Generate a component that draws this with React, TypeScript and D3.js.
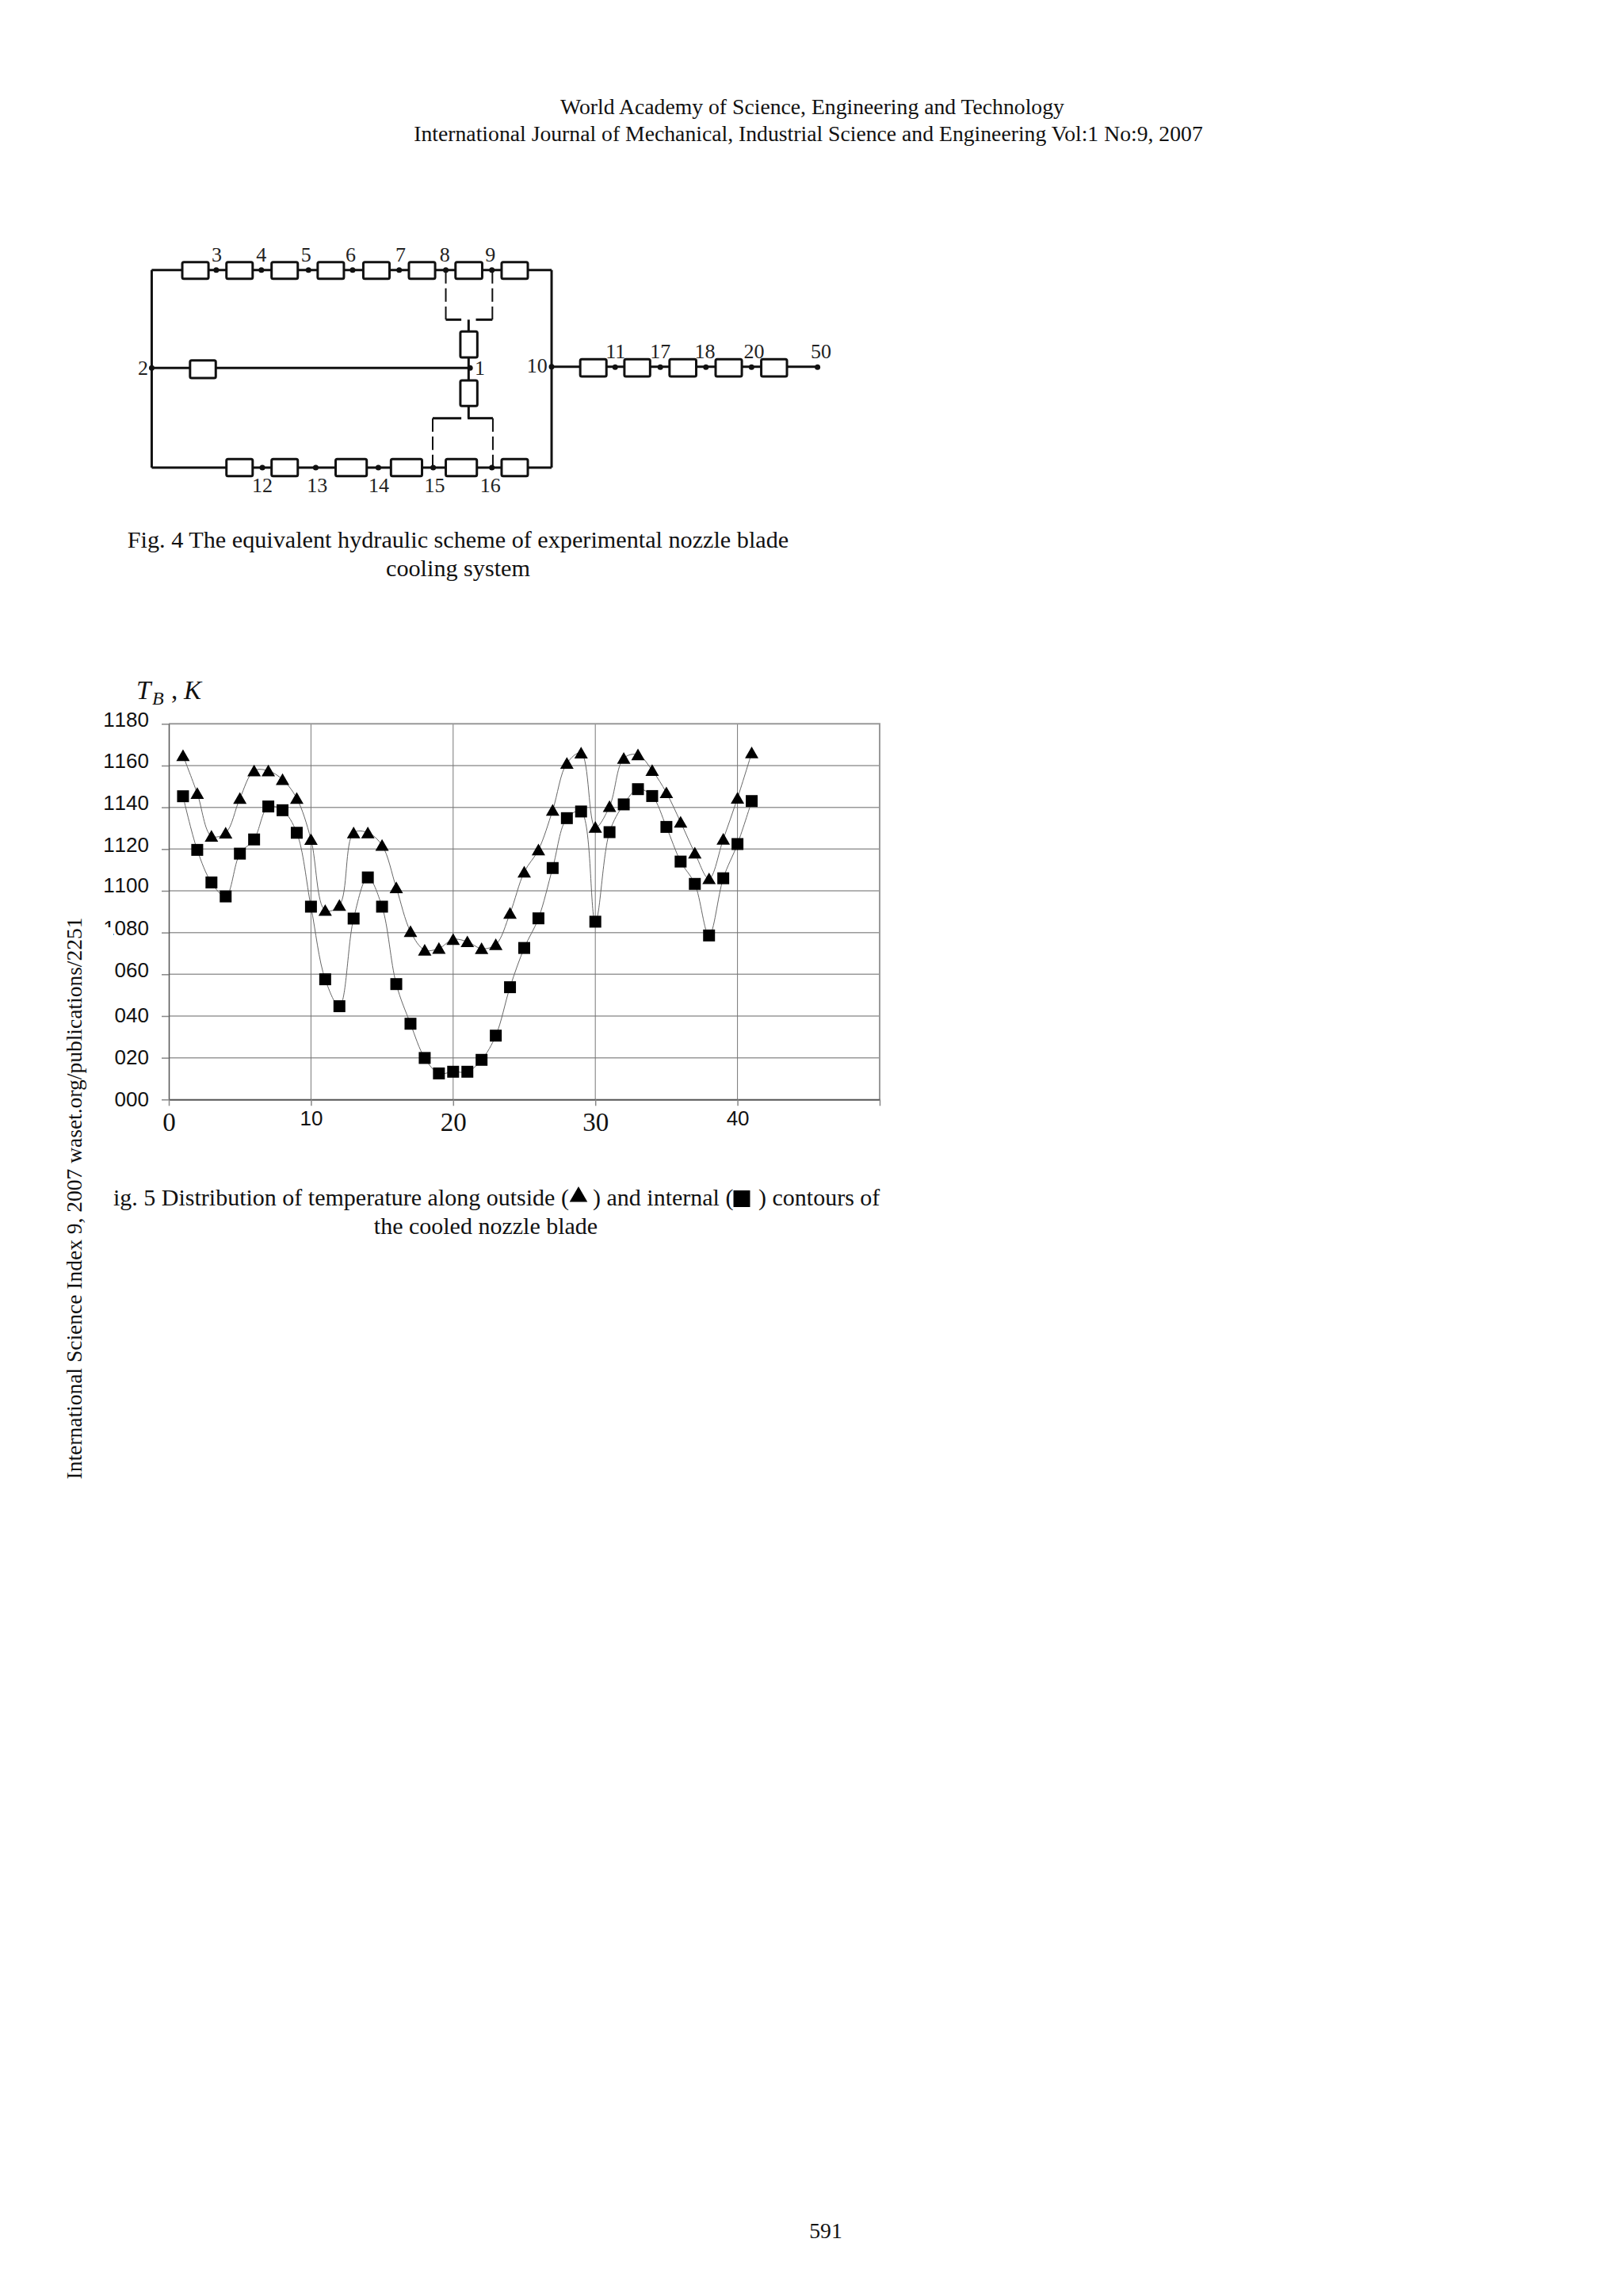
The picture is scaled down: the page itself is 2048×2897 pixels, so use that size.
import React, { useEffect, useRef } from 'react';
import * as d3 from 'd3';

// Fig. 5 values
const positions = d3.range(1, 42);
const outsideTemps = [
  1164.8, 1146.7, 1126.2, 1127.7, 1144.3, 1157.5, 1157.5, 1153.3, 1144.3, 1124.6,
  1090.6, 1093, 1127.8, 1127.8, 1121.8, 1101.5, 1080.5, 1071.6, 1072.4, 1076.7,
  1075.6, 1072.3, 1074.2, 1089.2, 1109, 1119.6, 1138.6, 1161.1, 1166, 1130.4,
  1140.4, 1163.5, 1165.2, 1157.7, 1147, 1132.9, 1118.1, 1105.8, 1124.7, 1144.4, 1166.1,
];
const internalTemps = [
  1145.3, 1119.6, 1104, 1097.3, 1117.8, 1124.6, 1140.4, 1138.6, 1127.8, 1092.4,
  1057.6, 1044.7, 1086.7, 1106.4, 1092.4, 1055.3, 1036.3, 1019.9, 1012.5, 1013.3,
  1013.3, 1019, 1030.6, 1053.8, 1072.6, 1086.8, 1110.9, 1134.8, 1138, 1085.2,
  1128.1, 1141.4, 1148.7, 1145.4, 1130.6, 1114, 1103.3, 1078.6, 1106, 1122.4, 1143,
];
const yTicks = [1180, 1160, 1140, 1120, 1100, 1080, 1060, 1040, 1020, 1000];
const yTickLabels = ['1180', '1160', '1140', '1120', '1100', '1080', '060', '040', '020', '000'];
const yLabelNudge = [-6, -6, -6, -6, -7, -6, -6, -1, -1, -1];
const xTicks = [0, 10, 20, 30, 40, 50];
const xTickLabels = ['0', '10', '20', '30', '40', ''];
const xTickSans = [false, true, false, false, true, false];

// Fig. 4 scheme, in a grid of its own mapped onto the page below
const topBoxes = [[147, 201], [238, 292], [331, 385], [426, 480], [520, 574], [614, 668], [710, 765], [805, 859]];
const bottomBoxes = [[238, 292], [331, 385], [463, 527], [577, 641], [690, 754], [805, 859]];
const exitBoxes = [[967, 1021], [1058, 1111], [1151, 1206], [1246, 1300], [1340, 1393]];
const topNodes = [217, 310, 407, 498, 594, 690, 785];
const bottomNodes = [312, 422, 551, 664, 785];
const exitNodes = [1039, 1132, 1226, 1320, 1456];
const topLabels: [string, number][] = [['3', 218], ['4', 310], ['5', 402], ['6', 494], ['7', 597], ['8', 688], ['9', 782]];
const bottomLabels: [string, number][] = [['12', 312], ['13', 425], ['14', 552], ['15', 667], ['16', 782]];
const exitLabels: [string, number][] = [['11', 1040], ['17', 1132], ['18', 1224], ['20', 1325], ['50', 1463]];

const serif = '"Liberation Serif", serif';
const sans = '"Liberation Sans", sans-serif';

function drawScheme(root: d3.Selection<SVGGElement, unknown, null, undefined>) {
  const sx = d3.scaleLinear().domain([0, 960 * 1.633]).range([140, 1100]);
  const sy = d3.scaleLinear().domain([0, 1440]).range([280, 760]);

  const wire = (x1: number, y1: number, x2: number, y2: number, dash?: string) =>
    root.append('line')
      .attr('x1', sx(x1)).attr('y1', sy(y1)).attr('x2', sx(x2)).attr('y2', sy(y2))
      .attr('stroke', '#111').attr('stroke-width', dash ? 2 : 3)
      .attr('stroke-dasharray', dash ?? null);
  const box = (x1: number, x2: number, y1: number, y2: number) =>
    root.append('rect')
      .attr('x', sx(x1)).attr('y', sy(y1)).attr('width', sx(x2) - sx(x1)).attr('height', sy(y2) - sy(y1))
      .attr('rx', 2).attr('fill', '#fff').attr('stroke', '#111').attr('stroke-width', 3);
  const node = (x: number, y: number) =>
    root.append('circle').attr('cx', sx(x)).attr('cy', sy(y)).attr('r', 3.5).attr('fill', '#111');
  const label = (t: string, x: number, y: number) =>
    root.append('text').attr('x', sx(x)).attr('y', sy(y)).attr('text-anchor', 'middle')
      .attr('font-family', serif).attr('font-size', 26).attr('fill', '#222').text(t);

  wire(84, 182, 908, 182);
  wire(84, 930, 908, 930);
  wire(84, 182, 84, 930);
  wire(908, 182, 908, 930);
  wire(84, 553, 740, 553);
  wire(908, 548, 1456, 548);
  wire(737, 370, 737, 415);
  wire(737, 513, 737, 600);
  wire(737, 697, 737, 743);

  // dashed brackets
  wire(690, 182, 690, 370, '17 6');
  wire(786, 182, 786, 370, '17 6');
  wire(690, 370, 722, 370);
  wire(752, 370, 786, 370);
  wire(663, 743, 722, 743);
  wire(735, 743, 787, 743);
  wire(663, 743, 663, 930, '17 6');
  wire(787, 743, 787, 930, '17 6');

  topBoxes.forEach(([a, b]) => box(a, b, 152, 215));
  bottomBoxes.forEach(([a, b]) => box(a, b, 898, 962));
  exitBoxes.forEach(([a, b]) => box(a, b, 520, 585));
  box(163, 216, 524, 591);
  box(720, 755, 415, 513);
  box(720, 755, 600, 697);

  topNodes.forEach((x) => node(x, 182));
  bottomNodes.forEach((x) => node(x, 930));
  exitNodes.forEach((x) => node(x, 550));
  node(84, 553);
  node(740, 553);
  node(908, 548);

  topLabels.forEach(([t, x]) => label(t, x, 150));
  bottomLabels.forEach(([t, x]) => label(t, x, 1022));
  exitLabels.forEach(([t, x]) => label(t, x, 515));
  label('2', 66, 578);
  label('1', 760, 578);
  label('10', 878, 570);
}

function drawChart(root: d3.Selection<SVGGElement, unknown, null, undefined>) {
  const x = d3.scaleLinear().domain([0, 50]).range([213, 1110]);
  const y = d3.scaleLinear().domain([1000, 1180]).range([1387.3, 913.3]);

  // grid
  root.append('g').selectAll('line').data(yTicks.slice(1, -1)).join('line')
    .attr('x1', x(0)).attr('x2', x(50)).attr('y1', (d) => y(d)).attr('y2', (d) => y(d))
    .attr('stroke', '#999').attr('stroke-width', 1.5);
  root.append('g').selectAll('line').data([10, 20, 30, 40]).join('line')
    .attr('x1', (d) => x(d)).attr('x2', (d) => x(d)).attr('y1', y(1180)).attr('y2', y(1000))
    .attr('stroke', '#777').attr('stroke-width', 1);
  root.append('path')
    .attr('d', `M${x(0)},${y(1180)}H${x(50)}V${y(1000)}`)
    .attr('fill', 'none').attr('stroke', '#999').attr('stroke-width', 2);

  const yAxis = root.append('g').attr('transform', `translate(${x(0)},0)`)
    .call(d3.axisLeft(y).tickValues(yTicks).tickSize(9).tickSizeOuter(0).tickFormat((_, i) => yTickLabels[i]));
  yAxis.select('.domain').attr('stroke', '#555').attr('stroke-width', 1.5);
  yAxis.selectAll('.tick line').attr('stroke', '#888').attr('stroke-width', 1.5);
  yAxis.selectAll<SVGTextElement, number>('.tick text')
    .attr('x', -25).attr('dy', (_, i) => yLabelNudge[i] + 9)
    .attr('font-family', sans).attr('font-size', 26).attr('fill', '#111')
    .style('font-kerning', 'none');

  const xAxis = root.append('g').attr('transform', `translate(0,${y(1000)})`)
    .call(d3.axisBottom(x).tickValues(xTicks).tickSize(8).tickSizeOuter(0).tickFormat((_, i) => xTickLabels[i]));
  xAxis.select('.domain').attr('stroke', '#555').attr('stroke-width', 2);
  xAxis.selectAll('.tick line').attr('stroke', '#888').attr('stroke-width', 1.5);
  xAxis.selectAll<SVGTextElement, number>('.tick text')
    .attr('dy', 0)
    .attr('y', (_, i) => (xTickSans[i] ? 33 : 40))
    .attr('font-family', (_, i) => (xTickSans[i] ? sans : serif))
    .attr('font-size', (_, i) => (xTickSans[i] ? 26 : 33))
    .attr('fill', '#111')
    .style('font-kerning', 'none');

  // the smoothed series
  const line = d3.line<number>()
    .x((_, i) => x(positions[i]))
    .y((d) => y(d))
    .curve(d3.curveCatmullRom.alpha(0.5));
  [outsideTemps, internalTemps].forEach((series) => {
    root.append('path').attr('d', line(series)).attr('fill', 'none').attr('stroke', '#666').attr('stroke-width', 1);
  });

  const triangle = d3.symbol(d3.symbolTriangle, 125)();
  const square = d3.symbol(d3.symbolSquare, 225)();
  root.append('g').selectAll('path').data(outsideTemps).join('path')
    .attr('d', triangle)
    .attr('transform', (d, i) => `translate(${x(positions[i])},${y(d) + 2})`)
    .attr('fill', '#000');
  root.append('g').selectAll('path').data(internalTemps).join('path')
    .attr('d', square)
    .attr('transform', (d, i) => `translate(${x(positions[i])},${y(d)})`)
    .attr('fill', '#000');

  // bottom half of the cropped "1" of 1080
  root.append('rect').attr('x', 125).attr('y', 1170).attr('width', 18).attr('height', 20).attr('fill', '#fff');

  // axis title
  const title = root.append('text').attr('font-family', serif).attr('font-style', 'italic').attr('fill', '#111');
  title.append('tspan').attr('x', 172).attr('y', 882).attr('font-size', 33).text('T');
  title.append('tspan').attr('x', 192).attr('y', 889).attr('font-size', 24).text('B');
  title.append('tspan').attr('x', 216).attr('y', 882).attr('font-size', 33).attr('font-style', 'normal').text(',');
  title.append('tspan').attr('x', 232).attr('y', 882).attr('font-size', 33).text('K');
}

function drawPage(root: d3.Selection<SVGGElement, unknown, null, undefined>) {
  const text = (t: string, px: number, py: number, size: number, anchor = 'middle') =>
    root.append('text').attr('x', px).attr('y', py).attr('text-anchor', anchor)
      .attr('font-family', serif).attr('font-size', size).attr('fill', '#111').text(t);

  text('World Academy of Science, Engineering and Technology', 1025, 144, 27.7);
  text('International Journal of Mechanical, Industrial Science and Engineering Vol:1 No:9, 2007', 1020, 178, 27.7);
  text('Fig. 4 The equivalent hydraulic scheme of experimental nozzle blade', 578, 691, 30.2);
  text('cooling system', 578, 727, 30.2);

  text('ig. 5 Distribution of temperature along outside (', 143, 1521, 30, 'start');
  text(') and internal (', 748, 1521, 30, 'start');
  text(') contours of', 957, 1521, 30, 'start');
  text('the cooled nozzle blade', 613, 1557, 30);
  root.append('path').attr('d', d3.symbol(d3.symbolTriangle, 220)())
    .attr('transform', 'translate(730,1510)').attr('fill', '#000');
  root.append('path').attr('d', d3.symbol(d3.symbolSquare, 440)())
    .attr('transform', 'translate(936,1512.5)').attr('fill', '#000');

  text('International Science Index 9, 2007 waset.org/publications/2251', 0, 0, 27.5)
    .attr('transform', 'translate(103,1512) rotate(-90)');
  text('591', 1042, 2824, 27.7);
}

const App = () => {
  const svgRef = useRef<SVGSVGElement>(null);

  useEffect(() => {
    const svg = d3.select(svgRef.current);
    svg.selectAll('*').remove();
    drawPage(svg.append('g'));
    drawScheme(svg.append('g'));
    drawChart(svg.append('g'));
  }, []);

  return (
    <svg
      ref={svgRef}
      width={2048}
      height={2897}
      style={{ position: 'absolute', top: 0, left: 0, background: '#fff' }}
    />
  );
};

export default App;
